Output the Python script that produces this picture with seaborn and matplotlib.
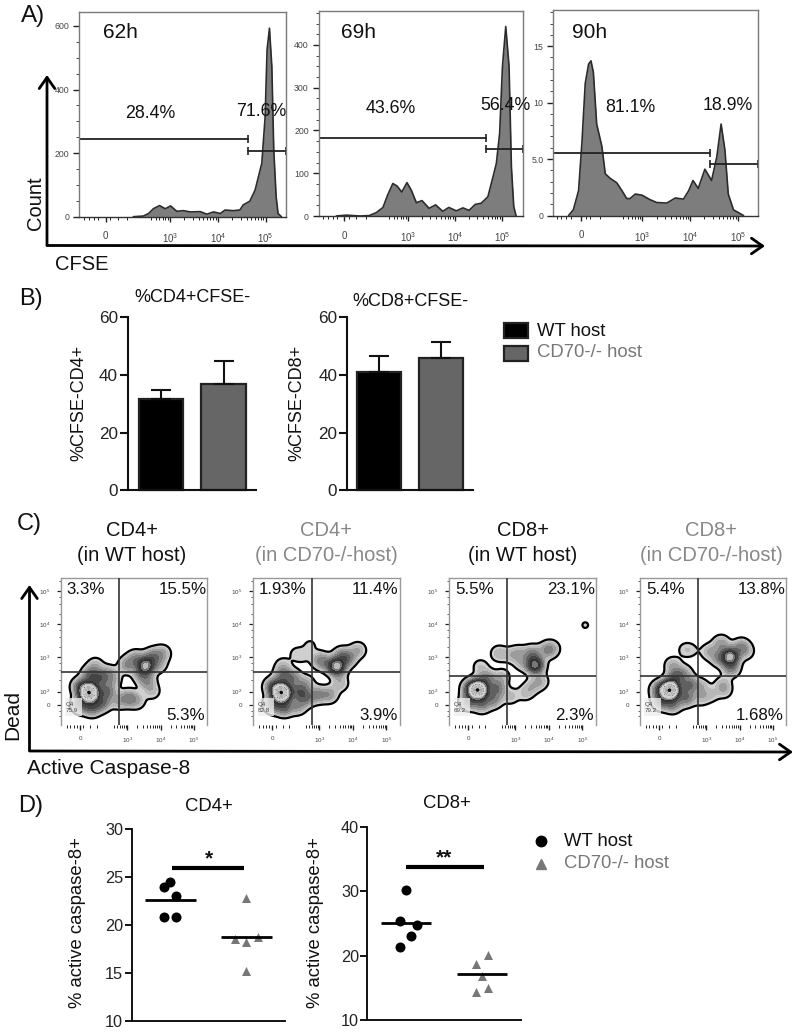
import matplotlib
matplotlib.use('Agg')
import matplotlib.pyplot as plt
import numpy as np
import pandas as pd
import seaborn as sns
from matplotlib.lines import Line2D
from matplotlib.patches import FancyArrowPatch, Rectangle

# panel A: CFSE histograms, x is log10 channel, y is count
hist_62h_x = [2.23, 2.44, 2.55, 2.65, 2.78, 2.90, 3.01, 3.14, 3.28, 3.42, 3.63, 3.77, 3.91, 4.05, 4.15,
              4.32, 4.46, 4.53, 4.67, 4.78, 4.85, 4.92, 4.99, 5.03, 5.08, 5.13, 5.17, 5.22, 5.26, 5.33]
hist_62h_y = [0, 2, 10, 25, 35, 25, 34, 17, 19, 15, 16, 8, 15, 10, 21,
              19, 21, 37, 49, 84, 126, 168, 315, 525, 593, 472, 210, 63, 10, 0]
hist_69h_x = [1.48, 1.69, 1.98, 2.18, 2.33, 2.47, 2.57, 2.68, 2.77, 2.87, 2.98, 3.07, 3.18, 3.30, 3.45, 3.59,
              3.74, 3.87, 4.03, 4.17, 4.30, 4.43, 4.56, 4.70, 4.81, 4.88, 4.95, 5.01, 5.08, 5.15, 5.20, 5.25, 5.30]
hist_69h_y = [0, 2, 0, 1, 8, 20, 49, 76, 70, 56, 78, 61, 31, 36, 18, 26,
              11, 20, 12, 19, 13, 27, 30, 45, 92, 123, 193, 350, 443, 350, 115, 22, 0]
hist_90h_x = [1.45, 1.55, 1.66, 1.73, 1.80, 1.87, 1.92, 1.97, 2.04, 2.15, 2.22, 2.32, 2.46, 2.57, 2.67, 2.74, 2.85,
              2.99, 3.16, 3.30, 3.51, 3.69, 3.86, 3.97, 4.06, 4.17, 4.31, 4.45, 4.56, 4.65, 4.73, 4.80, 4.91, 5.12]
hist_90h_y = [0, 0.5, 2.2, 6.4, 11.7, 13.4, 13.7, 12.7, 8.1, 6.1, 3.7, 3.3, 2.9, 2.2, 1.5, 1.5, 1.9,
              1.8, 1.4, 1.15, 1.1, 1.55, 1.45, 2.2, 3.1, 2.4, 4.1, 3.1, 5.2, 8.1, 5.8, 1.9, 0.5, 0]
gate_split = [4.64, 4.65, 4.41]
gate_neg_y = [243, 182, 5.55]
gate_pos_y = [208, 156, 4.6]
time_labels = ['62h', '69h', '90h']
neg_labels = ['28.4%', '43.6%', '81.1%']
pos_labels = ['71.6%', '56.4%', '18.9%']

# panel B: bars
hosts = ['WT host', 'CD70-/- host']
cd4_cfse = [31.5, 37]
cd4_cfse_top = [34.7, 45]
cd8_cfse = [41, 46]
cd8_cfse_top = [46.5, 51.5]

# panel C: events (log10 x, log10 y, weight) read from the density blobs
c_titles = ['CD4+\n(in WT host)', 'CD4+\n(in CD70-/-host)', 'CD8+\n(in WT host)', 'CD8+\n(in CD70-/-host)']
c_ul = ['3.3%', '1.93%', '5.5%', '5.4%']
c_ur = ['15.5%', '11.4%', '23.1%', '13.8%']
c_lr = ['5.3%', '3.9%', '2.3%', '1.68%']
c_q4 = ['75.9', '82.8', '69.2', '79.2']
events_cd4_wt = [(1.78, 1.91, 5), (1.96, 1.91, 5), (1.87, 1.78, 3), (1.87, 2.05, 3),
                 (1.6, 1.55, 3), (1.6, 2.1, 3), (1.95, 1.45, 3), (2.25, 1.6, 3), (2.4, 1.95, 3),
                 (2.2, 2.35, 3), (1.9, 2.45, 3), (2.45, 2.5, 1.5), (2.05, 2.75, 1.2), (2.6, 2.3, 1.2),
                 (2.75, 1.65, 1.5), (3.05, 1.75, 2.5), (3.3, 1.65, 1.3),
                 (3.55, 2.72, 7), (3.0, 2.75, 2.2), (3.25, 2.95, 2), (3.75, 3.0, 2.5), (4.05, 3.1, 1.8),
                 (3.95, 2.75, 1.3), (3.6, 2.25, 2), (3.75, 1.95, 1.2), (3.4, 2.45, 1.5)]
events_cd4_ko = [(1.78, 1.91, 5), (1.96, 1.91, 5), (1.87, 1.78, 3), (1.87, 2.05, 3),
                 (1.6, 1.55, 3), (1.6, 2.1, 3), (1.95, 1.45, 3), (2.35, 1.5, 2), (2.4, 1.95, 3),
                 (2.2, 2.35, 2.5), (1.9, 2.45, 2.5), (1.9, 2.75, 1), (2.6, 2.2, 1.5),
                 (2.6, 1.75, 2.5), (2.95, 1.85, 2.3), (3.3, 1.85, 2),
                 (3.52, 2.7, 7.5), (3.0, 2.9, 2), (3.2, 2.8, 1.5), (3.85, 2.95, 2.5), (4.15, 3.2, 1.6),
                 (3.65, 3.05, 1.8), (3.62, 2.2, 1.5), (2.72, 3.35, .7), (2.3, 3.1, .7), (2.5, 3.0, .6)]
events_cd8_wt = [(1.8, 1.99, 5), (1.98, 1.99, 5), (1.89, 1.86, 3), (1.89, 2.12, 3),
                 (1.6, 1.65, 3), (1.65, 2.05, 3), (2.0, 1.55, 2.5), (2.35, 1.7, 2.5), (2.45, 2.05, 3),
                 (2.15, 2.35, 2.5), (2.6, 2.4, 1.3), (1.95, 2.7, 1.1), (2.85, 1.8, 1.3),
                 (2.5, 3.1, 1.5), (2.85, 3.05, 1), (3.1, 3.1, 1.5), (3.5, 3.1, 2.5), (3.59, 2.75, 7),
                 (3.95, 3.2, 2), (4.1, 3.25, 1.2), (3.2, 2.8, 1.2), (3.75, 2.25, 1.5), (3.3, 1.9, 1.2),
                 (3.5, 2.1, 1.2), (5.09, 3.96, .66)]
events_cd8_ko = [(1.83, 1.99, 5), (2.01, 1.99, 5), (1.92, 1.86, 3), (1.92, 2.12, 3),
                 (1.65, 1.65, 3), (1.6, 2.0, 3), (2.0, 1.55, 2.5), (2.4, 1.75, 3), (2.5, 2.15, 3),
                 (2.1, 2.4, 3), (2.0, 2.75, 1.5), (2.35, 2.5, 1.5), (2.85, 2.1, 1.3), (2.85, 1.75, 1.2),
                 (3.15, 1.85, 1), (3.5, 2.15, 1.4), (3.55, 1.95, .9),
                 (3.72, 3.0, 7.5), (3.4, 2.95, 2), (3.1, 3.15, 1.6), (3.45, 3.4, 2), (4.05, 3.3, 2.2),
                 (4.2, 3.15, 1.1), (3.75, 2.65, 2.5), (2.35, 3.22, .7), (2.55, 3.2, .7)]
c_events = [events_cd4_wt, events_cd4_ko, events_cd8_wt, events_cd8_ko]
gate_x = [2.77, 2.77, 2.76, 2.76]
gate_y = [2.55, 2.55, 2.42, 2.42]

# panel D: dot plots
cd4_wt_pos = [-0.09, -0.01, 0.07, -0.08, 0.07]
cd4_wt = [24.0, 24.44, 22.99, 20.83, 20.87]
cd4_ko_pos = [0, -0.15, 0, 0.15, 0]
cd4_ko = [22.78, 18.5, 18.2, 18.7, 15.17]
cd8_wt_pos = [0, -0.08, 0.15, 0.07, -0.08]
cd8_wt = [30.13, 25.46, 24.84, 23.13, 21.36]
cd8_ko_pos = [0.08, -0.08, 0, 0.08, -0.08]
cd8_ko = [20.07, 18.77, 16.8, 14.98, 14.31]
cd4_means = [22.64, 18.8]
cd8_means = [25.0, 17.16]

W, H = 800, 1033
sns.set_theme(style='white')
plt.rcParams['font.family'] = ['Liberation Sans', 'DejaVu Sans']
plt.rcParams['mathtext.fontset'] = 'custom'
plt.rcParams['mathtext.rm'] = 'Liberation Sans'
fig = plt.figure(figsize=(8, 10.33), dpi=100)


def add_ax(left, top, right, bottom):
    return fig.add_axes([left / W, 1 - bottom / H, (right - left) / W, (bottom - top) / H])


def put_text(x, y, s, size, color='#111111', ha='center', va='center', **kw):
    return fig.text(x / W, 1 - y / H, s, fontsize=size, color=color, ha=ha, va=va, **kw)


def arrow(x0, y0, x1, y1):
    fig.add_artist(FancyArrowPatch((x0 / W, 1 - y0 / H), (x1 / W, 1 - y1 / H), transform=fig.transFigure,
                                   arrowstyle='->,head_length=5,head_width=3.5', lw=2, color='black',
                                   shrinkA=0, shrinkB=0, mutation_scale=1.6))


def flow_xticks(ax, size, zero, pad):
    minors = [d + np.log10(m) for d in [2, 3, 4] for m in range(2, 10) if d + np.log10(m) > 2.6]
    ax.set_xticks([zero, 3, 4, 5])
    ax.set_xticklabels(['0', r'$\mathregular{10^{3}}$', r'$\mathregular{10^{4}}$', r'$\mathregular{10^{5}}$'])
    ax.set_xticks(minors + [1.2, 1.3, 1.4, 1.5, zero + 0.1, 1.9, 2.1], minor=True)
    ax.tick_params(axis='x', which='major', length=3.5, width=1, color='#222222', labelsize=size,
                   labelcolor='#444444', pad=pad, bottom=True)
    ax.tick_params(axis='x', which='minor', length=1.8, width=.7, color='#222222', bottom=True)


def event_density(events, sigma=0.17):
    # isotropic kernel sum on a grid, so blobs keep the outline of the events
    gx, gy = np.meshgrid(np.linspace(1.02, 5.40, 300), np.linspace(0.93, 5.38, 300))
    dens = np.zeros_like(gx)
    for u, v, w in events:
        dens += w * np.exp(-((gx - u) ** 2 + (gy - v) ** 2) / (2 * sigma ** 2))
    return gx, gy, dens / dens.max()


# --- A
hist_data = [(hist_62h_x, hist_62h_y), (hist_69h_x, hist_69h_y), (hist_90h_x, hist_90h_y)]
hist_frames = [(79.3, 12, 285.7, 216.7), (318.5, 10.7, 522.7, 216), (553.3, 10, 758.3, 215.5)]
hist_ymax = [644, 480, 18.2]
hist_xlim = [(1.10, 5.42), (1.10, 5.44), (1.13, 5.43)]
hist_ticks = [[0, 200, 400, 600], [0, 100, 200, 300, 400], [0, 5, 10, 15]]
hist_ticklabels = [['0', '200', '400', '600'], ['0', '100', '200', '300', '400'], ['0', '5.0', '10', '15']]
hist_minor = [50, 25, 1]
zeros = [1.65, 1.65, 1.72]

for i in range(3):
    ax = add_ax(*hist_frames[i])
    xs, ys = hist_data[i]
    ax.fill_between(xs, ys, 0, color='#7d7d7d', lw=0)
    sns.lineplot(x=xs, y=ys, ax=ax, color='#2b2b2b', lw=1.2, estimator=None, sort=False)
    ax.set_xlim(*hist_xlim[i])
    ax.set_ylim(0, hist_ymax[i])
    split = gate_split[i]
    ax.plot([hist_xlim[i][0], split], [gate_neg_y[i]] * 2, color='#222222', lw=1.3)
    ax.plot([split, hist_xlim[i][1]], [gate_pos_y[i]] * 2, color='#222222', lw=1.3)
    ax.plot([split], [gate_neg_y[i]], marker='|', ms=6, mew=1.2, color='#222222', ls='none')
    ax.plot([split], [gate_pos_y[i]], marker='|', ms=6, mew=1.2, color='#222222', ls='none')
    ax.plot([hist_xlim[i][1]], [gate_pos_y[i]], marker='|', ms=6, mew=1.2, color='#222222', ls='none', clip_on=False)
    ax.set_yticks(hist_ticks[i])
    ax.set_yticklabels(hist_ticklabels[i])
    ax.set_yticks(np.arange(0, hist_ymax[i], hist_minor[i]), minor=True)
    ax.tick_params(axis='y', which='major', length=4, width=1, color='#222222', labelsize=6.3,
                   labelcolor='#444444', pad=3, left=True)
    ax.tick_params(axis='y', which='minor', length=2, width=.7, color='#444444', left=True)
    flow_xticks(ax, 7, zeros[i], 7)
    ax.set_xlabel('')
    ax.set_ylabel('')
    for name, sp in ax.spines.items():
        sp.set_color('#7a7a7a')
        sp.set_linewidth(1)
    ax.spines['bottom'].set_color('#333333')

put_text(33, 16, 'A)', 17.5)
for x, y, s in zip([120, 359, 590], [33, 33, 33], time_labels):
    put_text(x, y, s, 15)
for x, y, s in zip([150, 391, 630], [113, 108, 107], neg_labels):
    put_text(x, y, s, 12.8)
for x, y, s in zip([261, 505, 728], [111, 106, 106], pos_labels):
    put_text(x, y, s, 12.8)
arrow(47, 245, 47, 75)
arrow(47, 245.5, 765, 246)
put_text(82, 265, 'CFSE', 14.5)
put_text(36, 203, 'Count', 14.5, rotation=90)

# --- B
put_text(31, 299, 'B)', 17)
bar_sets = [(cd4_cfse, cd4_cfse_top, (127.8, 317.3, 256, 490.3), '%CD4+CFSE-', '%CFSE-CD4+', 192.5, 297, 79),
            (cd8_cfse, cd8_cfse_top, (346.9, 317.3, 473, 490.3), '%CD8+CFSE-', '%CFSE-CD8+', 410, 302, 297)]
for vals, tops, frame, title, ylab, tx, ty, lx in bar_sets:
    ax = add_ax(*frame)
    df = pd.DataFrame({'host': hosts, 'pct': vals})
    sns.barplot(data=df, x='host', y='pct', hue='host', palette=['black', '#666666'], width=0.7, ax=ax,
                edgecolor='#222222', linewidth=1.6, errorbar=None, legend=False, clip_on=False)
    ax.errorbar([0, 1], vals, yerr=[[0, 0], [t - v for t, v in zip(tops, vals)]], fmt='none', ecolor='#111111',
                elinewidth=1.5, capsize=7.5, capthick=1.5)
    ax.set_xlim(-0.52, 1.516)
    ax.set_ylim(0, 60)
    ax.set_yticks([0, 20, 40, 60])
    ax.set_xticks([])
    ax.set_xlabel('')
    ax.set_ylabel('')
    ax.tick_params(axis='y', length=6, width=1.5, labelsize=12.3, pad=1, left=True, color='#111111', labelcolor='#222222')
    sns.despine(ax=ax)
    ax.spines['left'].set_linewidth(1.5)
    ax.spines['bottom'].set_linewidth(1.5)
    ax.spines['left'].set_color('#111111')
    ax.spines['bottom'].set_color('#111111')
    put_text(tx, ty, title, 13)
    put_text(lx, 403, ylab, 13, rotation=90)

for y0, fc, lab, col, ty in [(323, 'black', hosts[0], '#111111', 332), (346, '#666666', hosts[1], '#777777', 353)]:
    fig.add_artist(Rectangle((504 / W, 1 - (y0 + 15) / H), 23.5 / W, 15 / H, transform=fig.transFigure,
                             facecolor=fc, edgecolor='#222222', lw=1.6))
    put_text(537, ty, lab, 13.3, color=col, ha='left')

# --- C
put_text(29, 524, 'C)', 17)
c_left = [61, 253.3, 449.3, 640]
title_cols = ['#111111', '#888888', '#111111', '#888888']
title_x = [132, 326, 523, 711]
levels = [.04, .08, .12, .17, .23, .3, .38, .46, .54, .62, .72, .8, .88, .94, 1.01]
band_colors = ['#cfcfcf', '#b8b8b8', '#9c9c9c', '#808080', '#606060', '#454545', '#333333', '#777777',
               '#bbbbbb', '#d5d5d5', '#3a3a3a', '#5a5a5a', '#2a2a2a', '#0a0a0a']
for i in range(4):
    ax = add_ax(c_left[i], 578.3, c_left[i] + 146.3, 725)
    gx, gy, dens = event_density(c_events[i])
    ax.contourf(gx, gy, dens, levels=levels, colors=band_colors)
    ax.contour(gx, gy, dens, levels=levels[:1], colors='black', linewidths=1.6)
    ax.contour(gx, gy, dens, levels=[.72, .8, .88, .94], colors='#d0d0d0', linewidths=.8)
    ax.set_xlim(1.02, 5.40)
    ax.set_ylim(0.93, 5.38)
    ax.add_patch(Rectangle((1.15, 1.2), 0.5, 0.55, facecolor='#eeeeee', edgecolor='none', alpha=.8, zorder=3))
    ax.axvline(gate_x[i], color='#333333', lw=1.2, zorder=5)
    ax.axhline(gate_y[i], color='#333333', lw=1.2, zorder=5)
    ax.text(1.16, 1.47, 'Q4\n' + c_q4[i], fontsize=4.5, color='#444444', va='center', linespacing=1.2, zorder=6)
    ax.set_yticks([1.53, 1.94, 3, 4, 5])
    ax.set_yticklabels(['0', r'$\mathregular{10^{2}}$', r'$\mathregular{10^{3}}$', r'$\mathregular{10^{4}}$',
                        r'$\mathregular{10^{5}}$'])
    ax.set_yticks([1.2, 1.35, 2.3, 2.6, 2.8, 3.3, 3.6, 3.8, 4.3, 4.6, 4.8, 5.3], minor=True)
    ax.tick_params(axis='y', which='major', length=3, width=.9, color='#222222', labelsize=4.5,
                   labelcolor='#444444', pad=5, left=True)
    ax.tick_params(axis='y', which='minor', length=1.5, width=.6, color='#444444', left=True)
    flow_xticks(ax, 4.5, 1.59, 4.5)
    ax.set_xlabel('')
    ax.set_ylabel('')
    for sp in ax.spines.values():
        sp.set_color('#999999')
        sp.set_linewidth(1)
    ax.spines['bottom'].set_visible(False)
    ax.text(0.04, 0.925, c_ul[i], transform=ax.transAxes, fontsize=12.2, color='#111111', va='center')
    ax.text(0.995, 0.925, c_ur[i], transform=ax.transAxes, fontsize=12.2, color='#111111', va='center', ha='right')
    ax.text(0.985, 0.065, c_lr[i], transform=ax.transAxes, fontsize=12.2, color='#111111', va='center', ha='right')
    put_text(title_x[i], 521, c_titles[i], 14.5, color=title_cols[i], va='top', linespacing=1.38)
arrow(29.5, 750, 29.5, 585)
arrow(29.5, 751, 793, 752)
put_text(109, 768, 'Active Caspase-8', 15)
put_text(13, 715, 'Dead', 15, rotation=90)

# --- D
put_text(31, 806, 'D)', 17)
dot_sets = [
    (cd4_wt_pos, cd4_wt, cd4_ko_pos, cd4_ko, cd4_means, (131.5, 829, 285, 1021), (10, 30), [10, 15, 20, 25, 30],
     (-0.513, 1.507), 25.94, (0.02, 0.97), 'CD4+', 208.6, 806.7, 77, '*', 0.5),
    (cd8_wt_pos, cd8_wt, cd8_ko_pos, cd8_ko, cd8_means, (367.4, 827, 521, 1020), (10, 40), [10, 20, 30, 40],
     (-0.506, 1.51), 33.82, (0.0, 1.02), 'CD8+', 447, 804, 316, '**', 0.5),
]
for wx, wy, kx, ky, means, frame, ylim, yt, xlim, sig, sigx, title, tx, ty, lx, star, sx in dot_sets:
    ax = add_ax(*frame)
    sns.scatterplot(x=wx, y=wy, ax=ax, color='black', marker='o', s=52, linewidth=0, clip_on=False)
    sns.scatterplot(x=[1 + p for p in kx], y=ky, ax=ax, color='#777777', marker='^', s=42, linewidth=0, clip_on=False)
    ax.hlines(means, [-0.33, 0.67], [0.33, 1.33], color='black', lw=2, zorder=4)
    ax.hlines(sig, sigx[0], sigx[1], color='black', lw=3)
    ax.text(sx, sig + (ylim[1] - ylim[0]) * 0.045, star, fontsize=15, fontweight='bold', ha='center', va='center',
            color='#111111')
    ax.set_xlim(*xlim)
    ax.set_ylim(*ylim)
    ax.set_yticks(yt)
    ax.set_xticks([])
    ax.tick_params(axis='y', length=5, width=1.4, labelsize=11.7, pad=1, left=True, color='#111111', labelcolor='#222222')
    sns.despine(ax=ax)
    ax.spines['left'].set_linewidth(1.4)
    ax.spines['bottom'].set_linewidth(1.4)
    ax.spines['left'].set_color('#111111')
    ax.spines['bottom'].set_color('#111111')
    put_text(tx, ty, title, 13.3)
    put_text(lx, 923, '% active caspase-8+', 13.3, rotation=90)

fig.add_artist(Line2D([541 / W], [1 - 841 / H], transform=fig.transFigure, marker='o', ms=7.5, color='black', ls='none'))
fig.add_artist(Line2D([541 / W], [1 - 864 / H], transform=fig.transFigure, marker='^', ms=6.5, color='#777777', ls='none'))
put_text(564, 841, hosts[0], 13.3, ha='left')
put_text(564, 864, hosts[1], 13.3, color='#777777', ha='left')

fig.savefig('out.png', dpi=100)
